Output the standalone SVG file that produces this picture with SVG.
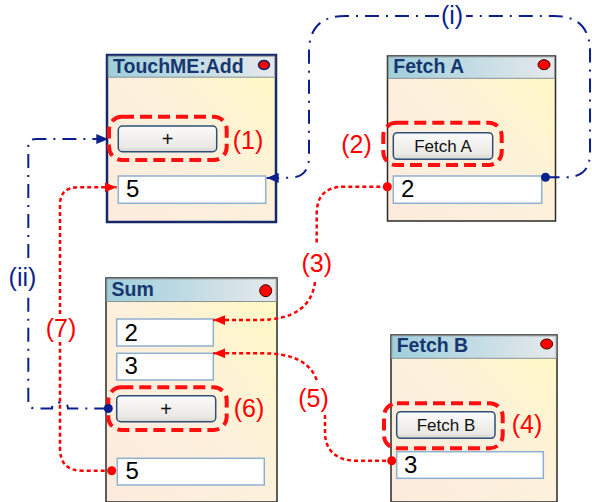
<svg xmlns="http://www.w3.org/2000/svg" width="592" height="502" viewBox="0 0 592 502">
<defs>
<linearGradient id="body" x1="0" y1="1" x2="1" y2="0">
<stop offset="0" stop-color="#fcebdd"/>
<stop offset="0.5" stop-color="#fdf0dc"/>
<stop offset="1" stop-color="#fffac2"/>
</linearGradient>
<linearGradient id="title" x1="0" y1="0" x2="1" y2="0">
<stop offset="0" stop-color="#9fcfdc"/>
<stop offset="1" stop-color="#e6e9eb"/>
</linearGradient>
<linearGradient id="btn" x1="0" y1="0" x2="0" y2="1">
<stop offset="0" stop-color="#fbfbfa"/>
<stop offset="0.8" stop-color="#ebe9e5"/>
<stop offset="1" stop-color="#d8d5cf"/>
</linearGradient>
<marker id="ar" markerUnits="userSpaceOnUse" markerWidth="12" markerHeight="10" refX="12" refY="5" orient="auto">
<path d="M0,0 L12,5 L0,10 z" fill="#ff0000"/>
</marker>
<marker id="ab" markerUnits="userSpaceOnUse" markerWidth="12" markerHeight="10" refX="12" refY="5" orient="auto">
<path d="M0,0 L12,5 L0,10 z" fill="#0b1f8f"/>
</marker>
</defs>
<style>
.body{fill:url(#body);stroke:#2a2a2a;stroke-width:1.5}
.sel{stroke:#14286a;stroke-width:2.5}
.tbar{fill:url(#title);stroke:#8a9296;stroke-width:1}
.ttl{font-family:"Liberation Sans",Arial,sans-serif;font-weight:bold;font-size:19.5px;fill:#17366e}
.led{fill:#ff0000;stroke:#3a0000;stroke-width:1}
.btn{fill:url(#btn);stroke:#2d4f7a;stroke-width:1.5}
.btxt{font-family:"Liberation Sans",Arial,sans-serif;font-size:17px;fill:#111;text-anchor:middle}
.plus{font-family:"Liberation Sans",Arial,sans-serif;font-size:20px;fill:#111;text-anchor:middle}
.inp{fill:#ffffff;stroke:#8fb0d0;stroke-width:1.5}
.num{font-family:"Liberation Sans",Arial,sans-serif;font-size:24px;fill:#000}
.hl{fill:none;stroke:#ff1010;stroke-width:4;stroke-dasharray:12 6}
.lr{font-family:"Liberation Sans",Arial,sans-serif;font-size:25px;fill:#ff0000;text-anchor:middle}
.lb{font-family:"Liberation Sans",Arial,sans-serif;font-size:25px;fill:#0b1f8f;text-anchor:middle}
.red{fill:none;stroke:#ff0000;stroke-width:2.5;stroke-dasharray:4 3}
.blue{fill:none;stroke:#0b1f8f;stroke-width:2;stroke-dasharray:14 7 2 7}
</style>

<g id="touchme">
<rect class="body sel" x="107" y="55" width="169" height="167"/>
<rect class="tbar" x="108.2" y="56.2" width="166.6" height="21"/>
<text class="ttl" x="113" y="73">TouchME:Add</text>
<ellipse class="led" cx="264" cy="65" rx="5.5" ry="4.5" style="stroke:#14286a;stroke-width:1.5"/>
<rect class="btn" x="118.3" y="126" width="98.4" height="25.7" rx="4"/>
<text class="plus" x="167.5" y="146">+</text>
<rect class="hl" x="109" y="116.7" width="117.7" height="43.3" rx="13"/>
<text class="lr" x="248" y="149">(1)</text>
<rect class="inp" x="118.3" y="176" width="147.4" height="27.3"/>
<text class="num" x="126" y="197">5</text>
</g>

<g id="fetchA">
<rect class="body" x="387.5" y="56" width="168" height="165"/>
<rect class="tbar" x="388.3" y="56.8" width="166.4" height="21.5"/>
<text class="ttl" x="393.3" y="72.7">Fetch A</text>
<ellipse class="led" cx="544" cy="64.7" rx="6" ry="5"/>
<rect class="btn" x="393.3" y="132.7" width="99.4" height="26.6" rx="4"/>
<text class="btxt" x="443" y="151.5">Fetch A</text>
<rect class="hl" x="383.3" y="122.7" width="118.4" height="42.3" rx="13"/>
<text class="lr" x="356.5" y="153">(2)</text>
<rect class="inp" x="393.3" y="176" width="148.4" height="27.3"/>
<text class="num" x="401" y="197">2</text>
</g>

<g id="sum">
<rect class="body" x="106" y="278" width="171" height="224"/>
<rect class="tbar" x="106.8" y="278.8" width="169.4" height="22.7"/>
<text class="ttl" x="111.5" y="296">Sum</text>
<circle class="led" cx="265.7" cy="290.7" r="6"/>
<rect class="inp" x="116.7" y="319" width="96.6" height="27"/>
<text class="num" x="124.5" y="340.5">2</text>
<rect class="inp" x="116.7" y="353.3" width="96.6" height="26.7"/>
<text class="num" x="124.5" y="374">3</text>
<rect class="btn" x="116.7" y="395.7" width="99" height="26" rx="4"/>
<text class="plus" x="166.2" y="416">+</text>
<rect class="hl" x="108.3" y="387.3" width="118.4" height="42.7" rx="13"/>
<text class="lr" x="249" y="416.5">(6)</text>
<rect class="inp" x="117.3" y="458.3" width="147" height="26.7"/>
<text class="num" x="125.5" y="479">5</text>
</g>

<g id="fetchB">
<rect class="body" x="391" y="335" width="166" height="167"/>
<rect class="tbar" x="391.8" y="335.8" width="164.4" height="22.5"/>
<text class="ttl" x="396.7" y="351.7">Fetch B</text>
<ellipse class="led" cx="546.7" cy="344" rx="6" ry="5"/>
<rect class="btn" x="396.7" y="411.7" width="98.3" height="26.6" rx="4"/>
<text class="btxt" x="446" y="430.5">Fetch B</text>
<rect class="hl" x="384" y="403.3" width="118.7" height="45" rx="13"/>
<text class="lr" x="527" y="433">(4)</text>
<rect class="inp" x="396.7" y="451.7" width="146.6" height="26.6"/>
<text class="num" x="404" y="473">3</text>
</g>

<g id="connectors">
<!-- (i) -->
<path class="blue" d="M545.5,177.3 L566,177.3 Q590,177.3 590,153 L590,52 Q590,16 554,16 L466,16"/>
<path class="blue" d="M439,16 L345,16 Q309,16 309,52 L309,157 Q309,177.5 289,177.8 L266.7,178" marker-end="url(#ab)"/>
<circle cx="545.5" cy="177.3" r="4.5" fill="#0b1f8f"/>
<text class="lb" x="452" y="24">(i)</text>
<!-- (ii) -->
<path class="blue" d="M108.3,408.5 L68,408.5 Q68,402.5 60,402.5 Q52,402.5 52,408.5 L35,408.5 Q28.3,408.5 28.3,401 L28.3,295"/>
<path class="blue" d="M28.3,258 L28.3,146 Q28.3,139 36,139 L108.3,139" marker-end="url(#ab)"/>
<circle cx="108.3" cy="408.5" r="4.5" fill="#0b1f8f"/>
<text class="lb" x="22.5" y="286">(ii)</text>
<!-- (7) -->
<path class="red" d="M111.7,470.7 L82,470.7 Q60,470.7 60,448 L60,342"/>
<path class="red" d="M60,314 L60,205 Q60,187.3 78,187.3 L116.7,187.3" marker-end="url(#ar)"/>
<circle cx="111.7" cy="470.7" r="4.5" fill="#ff0000"/>
<text class="lr" x="61" y="337">(7)</text>
<!-- (3) -->
<path class="red" d="M387.3,186.7 L345,186.7 C322,186.7 316.7,199 316.7,215 L316.7,244"/>
<path class="red" d="M315,282 C312,305 296,320 258,320 L213.3,320" marker-end="url(#ar)"/>
<circle cx="387.3" cy="186.7" r="4.5" fill="#ff0000"/>
<text class="lr" x="316.7" y="271.5">(3)</text>
<!-- (5) -->
<path class="red" d="M316.7,380 C310,362 293,353.3 262,353.3 L213.3,353.3" marker-end="url(#ar)"/>
<path class="red" d="M325,415 L325,432 C325,450 336,460.7 356,460.7 L391.7,460.7"/>
<circle cx="391.7" cy="460.7" r="4.5" fill="#ff0000"/>
<text class="lr" x="313.5" y="406.5">(5)</text>
</g>
</svg>
